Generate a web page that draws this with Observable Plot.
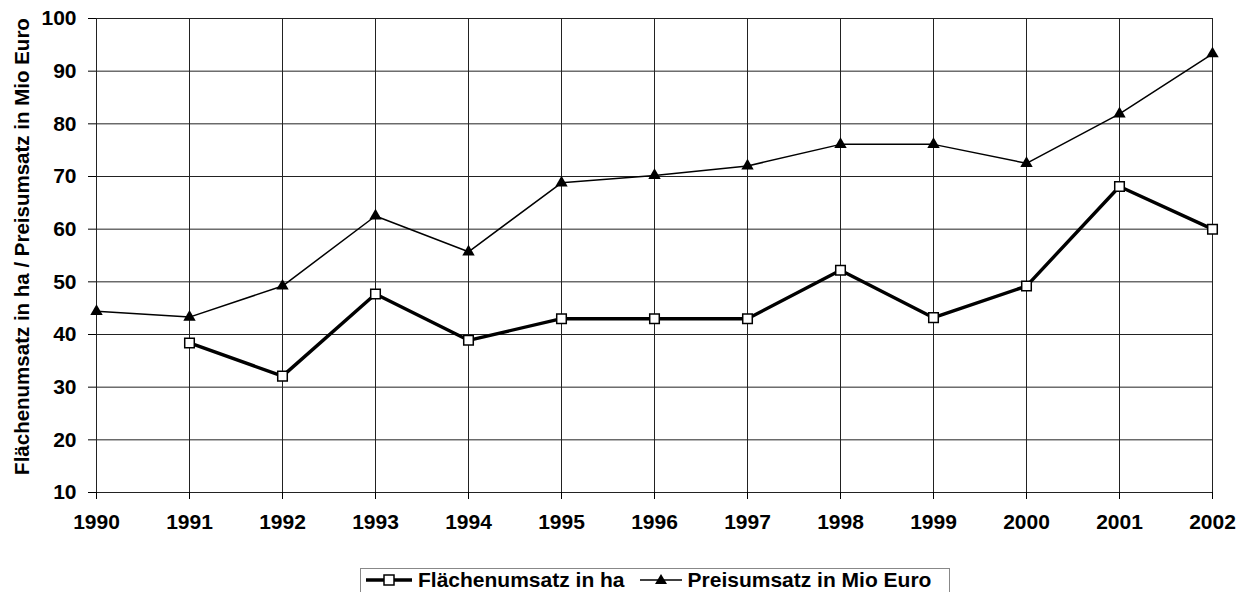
<!DOCTYPE html>
<html>
<head>
<meta charset="utf-8">
<script src="https://cdn.jsdelivr.net/npm/d3@7"></script>
<script src="https://cdn.jsdelivr.net/npm/@observablehq/plot@0.6"></script>
<style>
  html, body { margin: 0; padding: 0; background: #fff; }
  #wrap { position: relative; width: 1239px; height: 592px; overflow: hidden; font-family: "Liberation Sans", Arial, sans-serif; }
  #legend { position: absolute; left: 360px; top: 568px; width: 590px; height: 30px; border: 1px solid #888; box-sizing: border-box;
            display: flex; align-items: flex-start; font-weight: bold; font-size: 21px; line-height: 22px; color: #000; white-space: nowrap; }
  #legend .item { display: flex; align-items: center; height: 22px; }
  #legend svg { display: block; }
</style>
</head>
<body>
<div id="wrap"><div id="chart"></div><div id="legend"></div></div>
<script>
const years = [1990, 1991, 1992, 1993, 1994, 1995, 1996, 1997, 1998, 1999, 2000, 2001, 2002];
const flaechen = [null, 38.4, 32.1, 47.7, 38.9, 43.0, 43.0, 43.0, 52.2, 43.2, 49.2, 68.1, 60.0];
const preis = [44.4, 43.3, 49.2, 62.5, 55.7, 68.8, 70.2, 72.0, 76.1, 76.1, 72.5, 81.9, 93.3];
const yTicks = [10, 20, 30, 40, 50, 60, 70, 80, 90, 100];
const seriesNames = ["Flächenumsatz in ha", "Preisumsatz in Mio Euro"];
const yTitle = "Flächenumsatz in ha / Preisumsatz in Mio Euro";

const fData = years.map((y, i) => ({year: y, value: flaechen[i]})).filter(d => d.value != null);
const pData = years.map((y, i) => ({year: y, value: preis[i]}));

const chart = Plot.plot({
  width: 1239,
  height: 560,
  marginLeft: 96,
  marginRight: 27,
  marginTop: 18,
  marginBottom: 68,
  style: {fontFamily: "'Liberation Sans', Arial, sans-serif", fontSize: "21px", fontWeight: "bold", color: "#000", background: "#fff"},
  x: {type: "linear", domain: [1990, 2002]},
  y: {domain: [10, 100]},
  marks: [
    Plot.gridX(years, {stroke: "#222", strokeOpacity: 1}),
    Plot.gridY(yTicks, {stroke: "#222", strokeOpacity: 1}),
    Plot.frame({stroke: "#222"}),
    Plot.axisX({ticks: years, tickFormat: d => String(d), tickSize: 7, tickPadding: 15, label: null, fontSize: 21, fontWeight: "bold"}),
    Plot.axisY({ticks: yTicks, tickSize: 8, tickPadding: 12, fontSize: 21, fontWeight: "bold", label: null}),
    Plot.text([yTitle], {frameAnchor: "left", text: d => d, rotate: -90, dx: -74, dy: -9,
                         textAnchor: "middle", lineAnchor: "middle", fontSize: 20.5, fontWeight: "bold", fill: "#000"}),
    Plot.line(pData, {x: "year", y: "value", stroke: "#000", strokeWidth: 1.5}),
    Plot.line(fData, {x: "year", y: "value", stroke: "#000", strokeWidth: 3.4}),
    Plot.dot(pData, {x: "year", y: "value", symbol: "triangle", r: 4.6, fill: "#000", stroke: "none"}),
    Plot.dot(fData, {x: "year", y: "value", symbol: "square", r: 5.4, fill: "#fff", stroke: "#000", strokeWidth: 1.5})
  ]
});
document.getElementById("chart").appendChild(chart);

// Legend
const legend = document.getElementById("legend");
function swatch(kind) {
  const ns = "http://www.w3.org/2000/svg";
  const w = kind === "square" ? 49 : 45;
  const s = document.createElementNS(ns, "svg");
  s.setAttribute("width", w);
  s.setAttribute("height", 20);
  const line = document.createElementNS(ns, "line");
  line.setAttribute("x1", 1); line.setAttribute("x2", w - 2);
  line.setAttribute("y1", 10); line.setAttribute("y2", 10);
  line.setAttribute("stroke", "#000");
  line.setAttribute("stroke-width", kind === "square" ? 3.4 : 1.5);
  s.appendChild(line);
  if (kind === "square") {
    const r = document.createElementNS(ns, "rect");
    r.setAttribute("x", (w - 1) / 2 - 5); r.setAttribute("y", 5);
    r.setAttribute("width", 10); r.setAttribute("height", 10);
    r.setAttribute("fill", "#fff"); r.setAttribute("stroke", "#000"); r.setAttribute("stroke-width", 1.5);
    s.appendChild(r);
  } else {
    const p = document.createElementNS(ns, "path");
    const cx = (w - 1) / 2;
    p.setAttribute("d", `M${cx},4 L${cx + 6},14 L${cx - 6},14 Z`);
    p.setAttribute("fill", "#000");
    s.appendChild(p);
  }
  return s;
}
const kinds = ["square", "triangle"];
seriesNames.forEach((name, i) => {
  const item = document.createElement("div");
  item.className = "item";
  item.style.marginLeft = i === 0 ? "4px" : "14px";
  item.appendChild(swatch(kinds[i]));
  const t = document.createElement("span");
  t.textContent = name;
  t.style.marginLeft = "4px";
  item.appendChild(t);
  legend.appendChild(item);
});
</script>
</body>
</html>
